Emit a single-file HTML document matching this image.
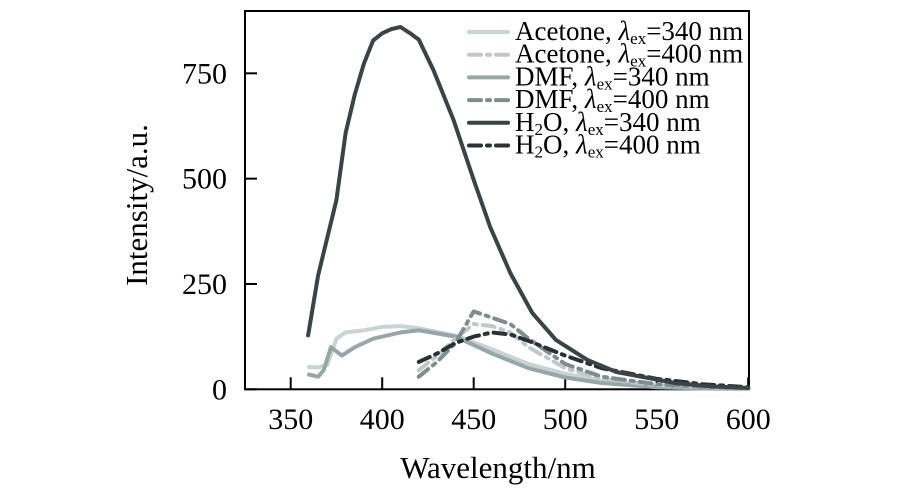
<!DOCTYPE html>
<html><head><meta charset="utf-8"><style>
html,body{margin:0;padding:0;background:#fff;}
svg{display:block;font-family:"Liberation Serif",serif;}
</style></head><body>
<svg id="chart" width="900" height="497" viewBox="0 0 900 497">
<g id="plot"></g>
<text x="498" y="478" font-size="31" text-anchor="middle">Wavelength/nm</text>
<text transform="translate(147,205) rotate(-90)" font-size="31" text-anchor="middle">Intensity/a.u.</text>
</svg>
<script>
const xTicks=[350,400,450,500,550,600];
const yTicks=[0,250,500,750];
const h2o340X=[359.5,365,370,375,380,385,390,395,400,405,410,415,420,428,439,450,459,470,482,495,512,528,545,560,580,600];
const h2o340Y=[128,270,360,449,608,700,773,828,845,855,860,846,830,758,639,497,385,276,181,117,70,41,27,15,7,3];
const ace340X=[360,365,370,375,380,390,400,410,420,440,460,480,500,520,550,575,600];
const ace340Y=[53,52,58,120,135,140,148,150,145,128,95,60,37,20,8,4,2];
const dmf340X=[360,365,368,372,378,385,395,410,420,440,460,480,500,520,550,575,600];
const dmf340Y=[35,30,45,100,80,100,120,135,140,125,85,50,28,15,5,2,1];
const ace400X=[420,430,440,450,460,470,480,500,520,550,575,600];
const ace400Y=[45,80,120,155,150,135,100,50,25,10,5,2];
const dmf400X=[420,430,440,450,460,470,480,500,520,550,575,600];
const dmf400Y=[30,65,110,185,170,155,120,60,30,12,6,3];
const h2o400X=[420,430,440,450,460,470,480,500,520,550,575,600];
const h2o400Y=[65,85,110,125,135,130,115,80,50,25,12,5];

const NS="http://www.w3.org/2000/svg";
const L=245,R=749,T=11,B=389.3;
function xs(v){return 290.7+(v-350)*1.83;}
function ys(v){return B-v*0.4213;}
const g=document.getElementById('plot');
function mk(t,a,p){const e=document.createElementNS(NS,t);for(const k in a)e.setAttribute(k,a[k]);(p||g).appendChild(e);return e;}

const frame=mk('rect',{x:L,y:T,width:R-L,height:B-T,fill:'none',stroke:'#000','stroke-width':2});


xTicks.forEach(v=>{
  const t=mk('line',{x1:xs(v),x2:xs(v),y1:B,y2:B-12,stroke:'#000','stroke-width':2});
  
  
  const l=mk('text',{x:xs(v),y:429,'font-size':30,'text-anchor':'middle'});l.textContent=v;
  
  
});
yTicks.forEach(v=>{
  const t=mk('line',{x1:L,x2:L+12,y1:ys(v),y2:ys(v),stroke:'#000','stroke-width':2});
  
  
  const l=mk('text',{x:227,y:ys(v)+10,'font-size':30,'text-anchor':'end'});l.textContent=v;
  
  
});
const series=[
 {n:'acetone-340',x:ace340X,y:ace340Y,c:'#c9d3d3',d:null},
 {n:'dmf-340',x:dmf340X,y:dmf340Y,c:'#98a6a8',d:null},
 {n:'acetone-400',x:ace400X,y:ace400Y,c:'#c0c9c9',d:'12 6 3 6'},
 {n:'dmf-400',x:dmf400X,y:dmf400Y,c:'#7f8d90',d:'12 6 3 6'},
 {n:'h2o-400',x:h2o400X,y:h2o400Y,c:'#2a3033',d:'12 6 3 6'},
 {n:'h2o-340',x:h2o340X,y:h2o340Y,c:'#3a4347',d:null}
];
series.forEach(s=>{
  const pts=s.x.map((v,i)=>xs(v).toFixed(1)+','+ys(s.y[i]).toFixed(1)).join(' ');
  const a={points:pts,fill:'none',stroke:s.c,'stroke-width':4,'stroke-linejoin':'round','stroke-linecap':'round'};
  if(s.d)a['stroke-dasharray']=s.d;
  const p=mk('polyline',a);
  
  
});
const leg=[
 {c:'#c9d3d3',d:null,pre:'Acetone, ',sub:null,ex:'340'},
 {c:'#c0c9c9',d:'12 6 3 6',pre:'Acetone, ',sub:null,ex:'400'},
 {c:'#98a6a8',d:null,pre:'DMF, ',sub:null,ex:'340'},
 {c:'#7f8d90',d:'12 6 3 6',pre:'DMF, ',sub:null,ex:'400'},
 {c:'#3a4347',d:null,pre:'H',sub:'2',ex:'340'},
 {c:'#2a3033',d:'12 6 3 6',pre:'H',sub:'2',ex:'400'}
];
leg.forEach((e,i)=>{
  const cy=32+i*22.7;
  const a={x1:469,x2:508,y1:cy,y2:cy,stroke:e.c,'stroke-width':4,'stroke-linecap':'round'};
  if(e.d)a['stroke-dasharray']=e.d;
  const ln=mk('line',a);
  
  
  const t=mk('text',{x:515,y:cy+8,'font-size':27});
  
  
  let html=e.pre;
  if(e.sub) html+='<tspan font-size="17" dy="4">2</tspan><tspan dy="-4">O, </tspan>';
  html+='<tspan font-style="italic">λ</tspan><tspan font-size="17" dy="4">ex</tspan><tspan dy="-4">='+e.ex+' nm</tspan>';
  t.innerHTML=html;
});
</script>
</body></html>
